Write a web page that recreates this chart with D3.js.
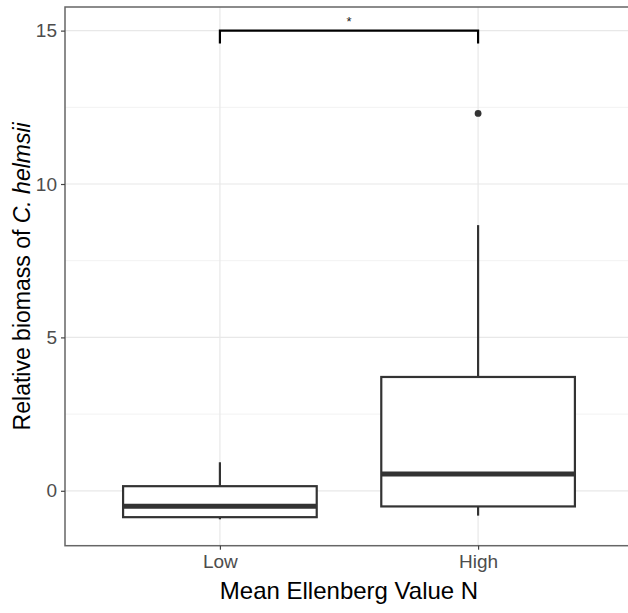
<!DOCTYPE html>
<html>
<head>
<meta charset="utf-8">
<script src="https://cdn.jsdelivr.net/npm/d3@7"></script>
<style>
  body { margin: 0; background: #fff; }
  text { font-family: "Liberation Sans", Arial, sans-serif; }
</style>
</head>
<body>
<script>
// data
var categories = ["Low", "High"];
var whiskLow = [-0.93, -0.81];
var q1 = [-0.86, -0.51];
var median = [-0.50, 0.55];
var q3 = [0.15, 3.71];
var whiskHigh = [0.93, 8.66];
var outliers = [[], [12.3]];
var yTicks = [0, 5, 10, 15];
var yMinor = [2.5, 7.5, 12.5];
var sigLevel = 15;
var sigLabel = "*";

function graficar() {
    var width = 628, height = 613;
    var left = 65, right = 633, top = 7, bottom = 545.7;

    var svg = d3.select("body").append("svg")
        .attr("width", width)
        .attr("height", height);

    svg.append("rect").attr("width", width).attr("height", height).attr("fill", "#fff");

    var x = d3.scalePoint()
        .domain(categories)
        .range([left, right])
        .padding(0.6);
    var step = x.step();
    var boxW = step * 0.75;

    var y = d3.scaleLinear()
        .domain([-1.79, 15.77])
        .range([bottom, top]);

    // grid
    var grid = svg.append("g");
    grid.selectAll(".minor").data(yMinor).enter().append("line")
        .attr("x1", left).attr("x2", right)
        .attr("y1", function (d) { return y(d); }).attr("y2", function (d) { return y(d); })
        .attr("stroke", "#f2f2f2").attr("stroke-width", 1);
    grid.selectAll(".major").data(yTicks).enter().append("line")
        .attr("x1", left).attr("x2", right)
        .attr("y1", function (d) { return y(d); }).attr("y2", function (d) { return y(d); })
        .attr("stroke", "#e8e8e8").attr("stroke-width", 1.2);
    grid.selectAll(".vx").data(categories).enter().append("line")
        .attr("x1", function (d) { return x(d); }).attr("x2", function (d) { return x(d); })
        .attr("y1", top).attr("y2", bottom)
        .attr("stroke", "#e8e8e8").attr("stroke-width", 1.2);

    // boxes
    var g = svg.append("g");
    categories.forEach(function (c, i) {
        var cx = x(c);
        g.append("line")
            .attr("x1", cx).attr("x2", cx)
            .attr("y1", y(q3[i])).attr("y2", y(whiskHigh[i]))
            .attr("stroke", "#333").attr("stroke-width", 2.2);
        g.append("line")
            .attr("x1", cx).attr("x2", cx)
            .attr("y1", y(q1[i])).attr("y2", y(whiskLow[i]))
            .attr("stroke", "#333").attr("stroke-width", 2.2);
        g.append("rect")
            .attr("x", cx - boxW / 2).attr("width", boxW)
            .attr("y", y(q3[i])).attr("height", y(q1[i]) - y(q3[i]))
            .attr("fill", "#fff").attr("stroke", "#333").attr("stroke-width", 2.2);
        g.append("line")
            .attr("x1", cx - boxW / 2).attr("x2", cx + boxW / 2)
            .attr("y1", y(median[i])).attr("y2", y(median[i]))
            .attr("stroke", "#333").attr("stroke-width", 5);
        g.selectAll(null).data(outliers[i]).enter().append("circle")
            .attr("cx", cx).attr("cy", function (d) { return y(d); })
            .attr("r", 3.4).attr("fill", "#333");
    });

    // significance bracket
    var x1 = x(categories[0]), x2 = x(categories[1]);
    svg.append("path")
        .attr("d", "M" + x1 + "," + y(sigLevel - 0.42) + "V" + y(sigLevel) + "H" + x2 + "V" + y(sigLevel - 0.42))
        .attr("fill", "none").attr("stroke", "#000").attr("stroke-width", 2.2);
    svg.append("text")
        .attr("x", (x1 + x2) / 2).attr("y", y(sigLevel) - 5)
        .attr("text-anchor", "middle")
        .attr("font-size", 13).attr("fill", "#222")
        .text(sigLabel);

    // panel border
    svg.append("rect")
        .attr("x", left).attr("y", top)
        .attr("width", right - left).attr("height", bottom - top)
        .attr("fill", "none").attr("stroke", "#666").attr("stroke-width", 1.5);

    // axes
    var yAxis = svg.append("g")
        .attr("transform", "translate(" + left + ",0)")
        .call(d3.axisLeft(y).tickValues(yTicks).tickSize(4).tickPadding(4));
    yAxis.select(".domain").remove();
    yAxis.selectAll("line").attr("stroke", "#444").attr("stroke-width", 1.2);
    yAxis.selectAll("text").attr("font-size", 19).attr("fill", "#4d4d4d")
        .style("font-family", "'Liberation Sans', Arial, sans-serif");

    var xAxis = svg.append("g")
        .attr("transform", "translate(0," + bottom + ")")
        .call(d3.axisBottom(x).tickSize(4).tickPadding(5));
    xAxis.select(".domain").remove();
    xAxis.selectAll("line").attr("stroke", "#444").attr("stroke-width", 1.2);
    xAxis.selectAll("text").attr("font-size", 19).attr("fill", "#4d4d4d")
        .style("font-family", "'Liberation Sans', Arial, sans-serif");

    // titles
    svg.append("text")
        .attr("x", (left + right) / 2).attr("y", 599)
        .attr("text-anchor", "middle")
        .attr("font-size", 24).attr("fill", "#000")
        .text("Mean Ellenberg Value N");

    var yt = svg.append("text")
        .attr("transform", "translate(30," + ((top + bottom) / 2) + ") rotate(-90)")
        .attr("text-anchor", "middle")
        .attr("font-size", 23).attr("fill", "#000");
    yt.append("tspan").text("Relative biomass of ");
    yt.append("tspan").attr("font-style", "italic").text("C. helmsii");
}

graficar();
</script>
</body>
</html>
